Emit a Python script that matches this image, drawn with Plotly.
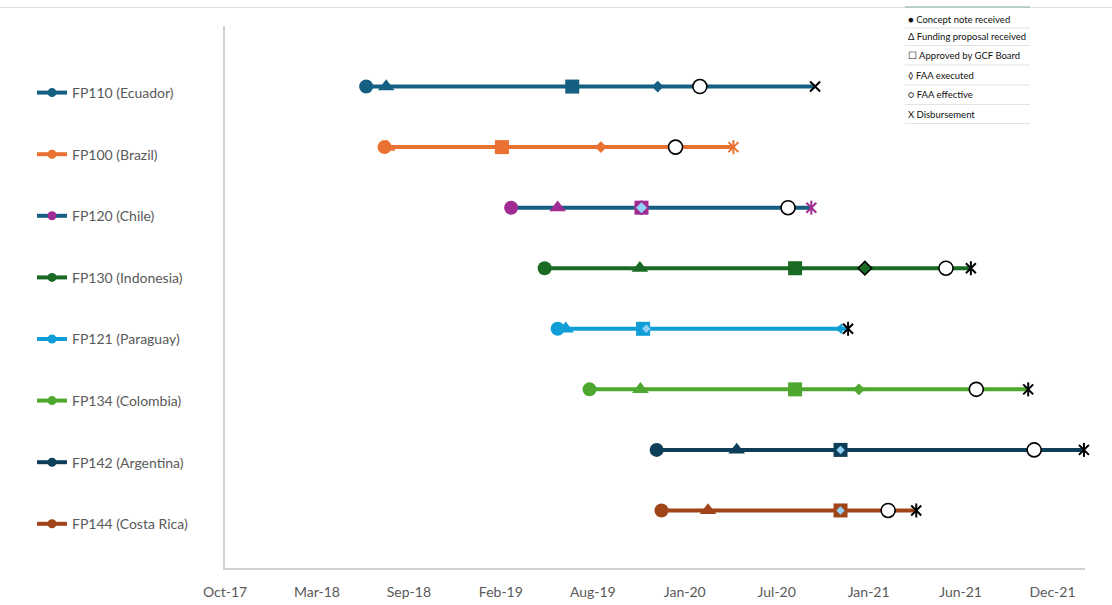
import plotly.graph_objects as go

# ---------------- data ----------------
projects = ["FP110 (Ecuador)", "FP100 (Brazil)", "FP120 (Chile)", "FP130 (Indonesia)",
            "FP121 (Paraguay)", "FP134 (Colombia)", "FP142 (Argentina)", "FP144 (Costa Rica)"]
concept = ["2018-06-19", "2018-07-23", "2019-03-14", "2019-05-15",
           "2019-06-08", "2019-08-06", "2019-12-08", "2019-12-17"]
funding = ["2018-07-26", "2018-07-28", "2019-06-08", "2019-11-07",
           "2019-06-23", "2019-11-08", "2020-05-04", "2020-03-12"]
board = ["2019-07-05", "2019-02-25", "2019-11-10", "2020-08-20",
         "2019-11-13", "2020-08-20", "2020-11-12", "2020-11-12"]
faa_exec = ["2019-12-10", "2019-08-27", "2019-11-10", "2020-12-27",
            "2019-11-19", "2020-12-16", "2020-11-12", "2020-11-12"]
faa_eff = ["2020-02-26", "2020-01-12", "2020-08-07", "2021-05-26",
           "2020-11-11", "2021-07-21", "2021-11-05", "2021-02-08"]
disb = ["2020-09-26", "2020-04-28", "2020-09-19", "2021-07-11",
        "2020-11-26", "2021-10-25", "2022-02-05", "2021-04-01"]

key_labels = ["● Concept note received", "Δ Funding proposal received", "☐ Approved by GCF Board",
              "◊ FAA executed", "○ FAA effective", "X Disbursement"]

# ---------------- styles ----------------
line_colors = ["#156082", "#E97132", "#156082", "#196B24", "#0F9ED5", "#4EA72E", "#0E3F5A", "#A0451A"]
marker_colors = ["#156082", "#E97132", "#A02B93", "#196B24", "#0F9ED5", "#4EA72E", "#0E3F5A", "#A0451A"]
LIGHT = "#92D2F4"
exec_colors = ["#156082", "#E97132", LIGHT, "#196B24", LIGHT, "#4EA72E", LIGHT, LIGHT]
exec_sizes = [9, 9, 8.5, 10.5, 6.5, 9, 6.5, 6.5]
exec_line_colors = ["#156082", "#E97132", LIGHT, "#000000", LIGHT, "#4EA72E", LIGHT, LIGHT]
exec_line_widths = [0, 0, 0, 1.5, 0, 0, 0, 0]
eff_symbols = ["circle", "circle", "circle", "circle", "triangle-left", "circle", "circle", "circle"]
eff_colors = ["#FFFFFF", "#FFFFFF", "#FFFFFF", "#FFFFFF", "#0F9ED5", "#FFFFFF", "#FFFFFF", "#FFFFFF"]
eff_sizes = [14, 14, 14, 14, 10, 14, 14, 14]
eff_line_widths = [1.6, 1.6, 1.6, 1.6, 0, 1.6, 1.6, 1.6]
disb_colors = ["#000000", "#E97132", "#A02B93", "#000000", "#000000", "#000000", "#000000", "#000000"]
disb_star = [False, True, True, True, True, True, True, True]

W, H = 1112, 605
ML, MR, MT, MB = 225, 27, 26, 37
PW, PH = W - ML - MR, H - MT - MB


def px(x):
    return (x - ML) / PW


def py(y):
    return 1 - (y - MT) / PH


n = len(projects)
rows = list(range(n, 0, -1))

fig = go.Figure()

# connecting lines
for i in range(n):
    xs = [concept[i], funding[i], board[i], faa_exec[i], faa_eff[i], disb[i]]
    fig.add_trace(go.Scatter(x=xs, y=[rows[i]] * len(xs), mode="lines",
                             line=dict(color=line_colors[i], width=4),
                             showlegend=False, hoverinfo="skip", cliponaxis=False))

# funding proposal received
fig.add_trace(go.Scatter(x=funding, y=rows, mode="markers", showlegend=False, cliponaxis=False,
                         marker=dict(symbol="triangle-up", size=14.5, color=marker_colors, opacity=1,
                                     line=dict(width=0))))
# concept note received
fig.add_trace(go.Scatter(x=concept, y=rows, mode="markers", showlegend=False, cliponaxis=False,
                         marker=dict(symbol="circle", size=14, color=marker_colors, opacity=1,
                                     line=dict(width=0))))
# approved by board
fig.add_trace(go.Scatter(x=board, y=rows, mode="markers", showlegend=False, cliponaxis=False,
                         marker=dict(symbol="square", size=14, color=marker_colors, opacity=1,
                                     line=dict(width=0))))
# Chile: star-like outline (square + diamond overlay)
fig.add_trace(go.Scatter(x=[board[2]], y=[rows[2]], mode="markers", showlegend=False, cliponaxis=False,
                         marker=dict(symbol="diamond", size=12, color=marker_colors[2], opacity=1,
                                     line=dict(width=0))))
# FAA executed
fig.add_trace(go.Scatter(x=faa_exec, y=rows, mode="markers", showlegend=False, cliponaxis=False,
                         marker=dict(symbol="diamond", size=exec_sizes, color=exec_colors, opacity=1,
                                     line=dict(width=exec_line_widths, color=exec_line_colors))))
# FAA effective
fig.add_trace(go.Scatter(x=faa_eff, y=rows, mode="markers", showlegend=False, cliponaxis=False,
                         marker=dict(symbol=eff_symbols, size=eff_sizes, color=eff_colors, opacity=1,
                                     line=dict(width=eff_line_widths, color="#000000"))))
# Disbursement (X)
fig.add_trace(go.Scatter(x=disb, y=rows, mode="markers", showlegend=False, cliponaxis=False,
                         marker=dict(symbol="x-thin-open", size=10, color=disb_colors, opacity=1,
                                     line=dict(width=2, color=disb_colors))))
# Disbursement vertical stroke (star marker)
sx = [disb[i] for i in range(n) if disb_star[i]]
sy = [rows[i] for i in range(n) if disb_star[i]]
sc = [disb_colors[i] for i in range(n) if disb_star[i]]
fig.add_trace(go.Scatter(x=sx, y=sy, mode="markers", showlegend=False, cliponaxis=False,
                         marker=dict(symbol="line-ns-open", size=10, color=sc, opacity=1,
                                     line=dict(width=2, color=sc))))

# legend entries (series)
for i in range(n):
    fig.add_trace(go.Scatter(x=[None], y=[None], mode="lines+markers", name=projects[i],
                             legendgroup=f"g{i}",
                             line=dict(color=line_colors[i], width=4),
                             marker=dict(symbol="circle", size=9, color=marker_colors[i])))

# key box (top right)
shapes = []
annotations = []
text_y = [20, 36.5, 55.5, 75.5, 95, 114.5]
sep_y = [28, 45.5, 65, 85, 104.5, 123.5]
for lbl, ty in zip(key_labels, text_y):
    annotations.append(dict(xref="paper", yref="paper", x=px(906), y=py(ty), xanchor="left", yanchor="middle",
                            text=lbl, showarrow=False,
                            font=dict(family="Lato", size=9.5, color="#111111")))
for sy_ in sep_y:
    shapes.append(dict(type="line", xref="paper", yref="paper", x0=px(905), x1=px(1030), y0=py(sy_), y1=py(sy_),
                       line=dict(color="#e3e3e3", width=1)))
shapes.append(dict(type="line", xref="paper", yref="paper", x0=px(905), x1=px(1030), y0=py(7), y1=py(7),
                   line=dict(color="#a9c9b5", width=1.5)))
shapes.append(dict(type="line", xref="paper", yref="paper", x0=px(0), x1=px(1112), y0=py(7.5), y1=py(7.5),
                   line=dict(color="#e0e0e0", width=1.2), layer="below"))

fig.update_layout(
    width=W, height=H,
    margin=dict(l=ML, r=MR, t=MT, b=MB, autoexpand=False),
    paper_bgcolor="white", plot_bgcolor="white",
    font=dict(family="Lato", color="#595959"),
    showlegend=True,
    legend=dict(x=px(32), y=py(77), xanchor="left", yanchor="top", tracegroupgap=40.4,
                font=dict(family="Lato", size=14, color="#595959"), bgcolor="rgba(0,0,0,0)"),
    shapes=shapes, annotations=annotations,
    hovermode=False,
)
fig.update_xaxes(type="date", range=["2017-10-01", "2022-02-07"], tickmode="linear",
                 tick0="2017-10-01", dtick=170 * 86400000, tickformat="%b-%y", automargin=False,
                 showgrid=False, zeroline=False, showline=True, linecolor="#d0d0d0", linewidth=2,
                 ticks="", ticklabelstandoff=10, tickfont=dict(family="Lato", size=14, color="#595959"))
fig.update_yaxes(range=[0.05, 9], showgrid=False, zeroline=False, showticklabels=False, automargin=False,
                 showline=True, linecolor="#d0d0d0", linewidth=2, ticks="")

fig.write_html("out.html")
